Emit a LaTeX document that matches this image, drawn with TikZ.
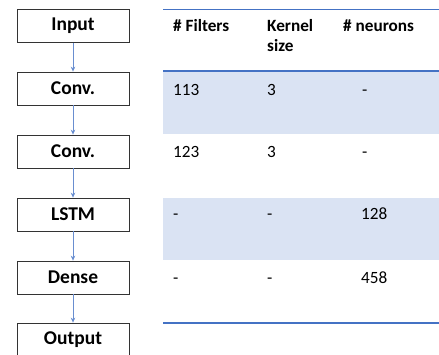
\documentclass[tikz,border=0pt]{standalone}
\usepackage{fontspec}
\setmainfont{Carlito}
\usetikzlibrary{arrows.meta}
\definecolor{rulecol}{HTML}{4472C4}
\definecolor{bandcol}{HTML}{DAE3F3}
\begin{document}
\begin{tikzpicture}[x=1pt, y=-1pt, >={Stealth[length=5pt,width=4.5pt]},
  layer/.style={draw=black!80, line width=0.8pt, minimum width=112pt, minimum height=33pt, inner sep=0pt, font=\fontsize{19.5}{22}\selectfont\bfseries},
  flow/.style={->, draw=rulecol!80, fill=rulecol, line width=0.7pt},
  head/.style={anchor=base west, inner sep=0pt, font=\fontsize{17.2}{20}\selectfont\bfseries},
  cell/.style={anchor=base west, inner sep=0pt, font=\fontsize{17.2}{20}\selectfont}]
\useasboundingbox (0,0) rectangle (439,354);
\fill[white] (0,0) rectangle (439,354);
% layers
\node[layer] (n1) at (73,26.0) {Input};
\node[layer] (n2) at (73,88.5) {Conv.};
\node[layer] (n3) at (73,151.5) {Conv.};
\node[layer] (n4) at (73,214.5) {LSTM};
\node[layer] (n5) at (73,277.5) {Dense};
\node[layer] (n6) at (73,339.5) {Output};
\draw[flow] (n1) -- (n2);
\draw[flow] (n2) -- (n3);
\draw[flow] (n3) -- (n4);
\draw[flow] (n4) -- (n5);
\draw[flow] (n5) -- (n6);
% table
\fill[bandcol] (163,71) rectangle (439,134);
\fill[bandcol] (163,198) rectangle (439,260);
\draw[rulecol, line width=1.4pt] (163,9.5) -- (439,9.5);
\draw[rulecol, line width=1.2pt] (163,71) -- (439,71);
\draw[rulecol, line width=1.2pt] (163,323) -- (439,323);
\node[head] (h1) at (173,31.5) {\# Filters};
\node[head] (h2) at (267,31.5) {Kernel};
\node[head] (h2b) at (267,51.5) {size};
\node[head] (h3) at (343,31.5) {\# neurons};
\node[cell] (r1a) at (173,95) {113};
\node[cell] (r1b) at (267,95) {3};
\node[cell] (r1c) at (362,95) {-};
\node[cell] (r2a) at (173,157) {123};
\node[cell] (r2b) at (267,157) {3};
\node[cell] (r2c) at (362,157) {-};
\node[cell] (r3a) at (173,219) {-};
\node[cell] (r3b) at (267,219) {-};
\node[cell] (r3c) at (361,219) {128};
\node[cell] (r4a) at (173,283) {-};
\node[cell] (r4b) at (267,283) {-};
\node[cell] (r4c) at (361,283) {458};
\end{tikzpicture}
\end{document}
